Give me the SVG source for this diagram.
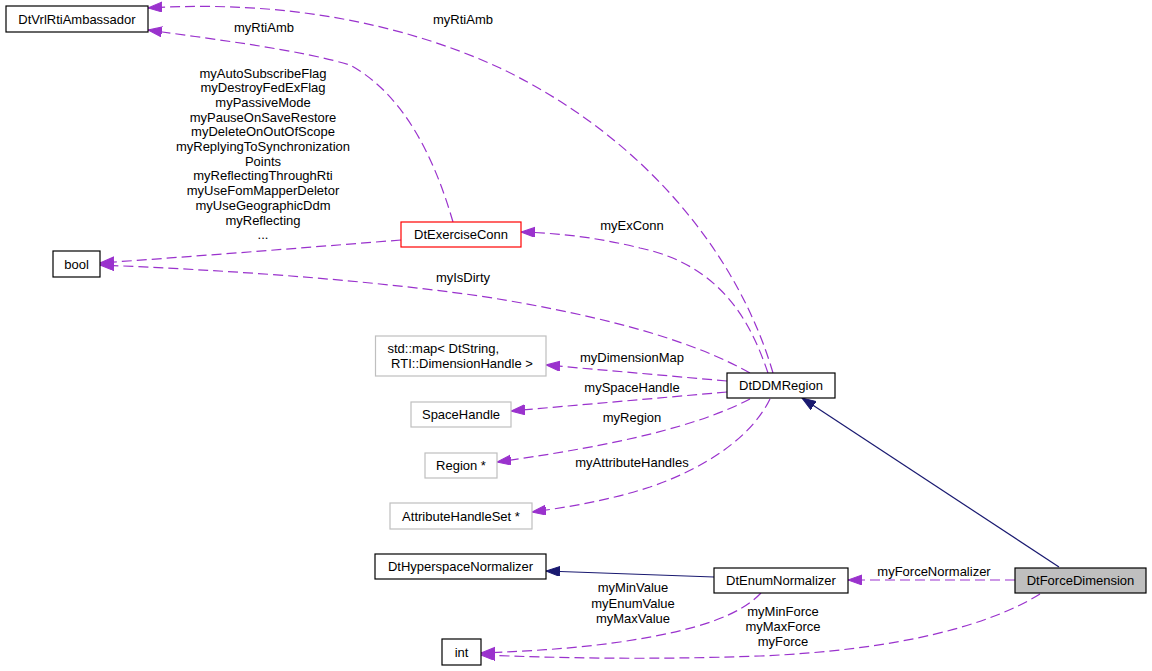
<svg xmlns="http://www.w3.org/2000/svg" width="1152" height="671" viewBox="0 0 1152 671">
<style>
text{font-family:"Liberation Sans",Arial,sans-serif;font-size:13px;fill:#000;text-anchor:middle}
.n rect{fill:#fff;stroke:#000;stroke-width:1.2}
.n.grey rect{stroke:#bfbfbf}
.n.red rect{stroke:#ff0000}
.n.cur rect{fill:#bfbfbf}
.e{fill:none;stroke:#9a32cd;stroke-width:1.2;stroke-dasharray:10,5}
.i{fill:none;stroke:#191970;stroke-width:1.2}
</style>
<defs>
<marker id="ap" markerUnits="userSpaceOnUse" markerWidth="16" markerHeight="12" refX="14" refY="5" orient="auto"><path d="M0,0 L14,5 L0,10 z" fill="#9a32cd" stroke="#9a32cd"/></marker>
<marker id="an" markerUnits="userSpaceOnUse" markerWidth="16" markerHeight="12" refX="14" refY="5" orient="auto"><path d="M0,0 L14,5 L0,10 z" fill="#191970" stroke="#191970"/></marker>
</defs>
<rect width="1152" height="671" fill="#fff"/>
<g id="connectors">
<path class="i" marker-end="url(#an)" d="M1059,567 L802,398"/>
<path class="i" marker-end="url(#an)" d="M714,577 L546,571"/>
<path class="e" marker-end="url(#ap)" d="M1015,580 L848,580"/>
<path class="e" marker-end="url(#ap)" d="M773,373 C740,260 650,140 500,68 C400,22 280,0 148,8"/>
<path class="e" marker-end="url(#ap)" d="M453,222 C435,160 405,95 350,65 C300,50 220,40 148,30"/>
<path class="e" marker-end="url(#ap)" d="M401,240 C300,248 200,256 100,263"/>
<path class="e" marker-end="url(#ap)" d="M750,373 C700,345 620,318 480,296 C350,278 220,270 100,265"/>
<path class="e" marker-end="url(#ap)" d="M768,373 C750,320 720,265 640,248 C600,238 560,233 521,232"/>
<path class="e" marker-end="url(#ap)" d="M727,381 L546,365"/>
<path class="e" marker-end="url(#ap)" d="M727,392 L511,411"/>
<path class="e" marker-end="url(#ap)" d="M750,399 C700,425 620,445 497,462"/>
<path class="e" marker-end="url(#ap)" d="M770,399 C750,440 700,470 650,487 C610,500 570,507 532,512"/>
<path class="e" marker-end="url(#ap)" d="M761,593 C740,615 700,630 620,642 C570,649 530,651 481,653"/>
<path class="e" marker-end="url(#ap)" d="M1040,594 C990,625 900,650 760,656 C650,660 560,658 481,655"/>
<text x="463" y="24">myRtiAmb</text>
<text x="264" y="32">myRtiAmb</text>
<text x="263" y="77.5">myAutoSubscribeFlag</text>
<text x="263" y="92.2">myDestroyFedExFlag</text>
<text x="263" y="106.9">myPassiveMode</text>
<text x="263" y="121.6">myPauseOnSaveRestore</text>
<text x="263" y="136.3">myDeleteOnOutOfScope</text>
<text x="263" y="151">myReplyingToSynchronization</text>
<text x="263" y="165.7">Points</text>
<text x="263" y="180.4">myReflectingThroughRti</text>
<text x="263" y="195.1">myUseFomMapperDeletor</text>
<text x="263" y="209.8">myUseGeographicDdm</text>
<text x="263" y="224.5">myReflecting</text>
<text x="263" y="238.5">...</text>
<text x="463" y="282">myIsDirty</text>
<text x="632" y="230">myExConn</text>
<text x="632" y="362">myDimensionMap</text>
<text x="632" y="392">mySpaceHandle</text>
<text x="632" y="422">myRegion</text>
<text x="632" y="467">myAttributeHandles</text>
<text x="934" y="576">myForceNormalizer</text>
<text x="633" y="592">myMinValue</text>
<text x="633" y="607.5">myEnumValue</text>
<text x="633" y="622.5">myMaxValue</text>
<text x="783" y="615.5">myMinForce</text>
<text x="783" y="631">myMaxForce</text>
<text x="783" y="646">myForce</text>
</g>
<g id="DtVrlRtiAmbassador" class="n"><rect x="6" y="6" width="142" height="26"/><text x="77" y="23.5">DtVrlRtiAmbassador</text></g>
<g id="bool" class="n"><rect x="53" y="251" width="47" height="26"/><text x="76.5" y="268.5">bool</text></g>
<g id="DtExerciseConn" class="n red"><rect x="401" y="222" width="120" height="25"/><text x="461" y="239">DtExerciseConn</text></g>
<g id="stdmap" class="n grey"><rect x="375.5" y="336" width="170.5" height="40"/><text x="387.5" y="353" style="text-anchor:start">std::map&lt; DtString,</text><text x="387.5" y="368" style="text-anchor:start" xml:space="preserve"> RTI::DimensionHandle &gt;</text></g>
<g id="SpaceHandle" class="n grey"><rect x="411" y="402" width="100" height="25"/><text x="461" y="419">SpaceHandle</text></g>
<g id="Region" class="n grey"><rect x="425" y="453" width="72" height="25"/><text x="461" y="469.5">Region *</text></g>
<g id="AttributeHandleSet" class="n grey"><rect x="390" y="503" width="142" height="26"/><text x="461" y="520.5">AttributeHandleSet *</text></g>
<g id="DtDDMRegion" class="n"><rect x="727" y="373" width="108" height="25"/><text x="781" y="390">DtDDMRegion</text></g>
<g id="DtHyperspaceNormalizer" class="n"><rect x="375" y="554" width="171" height="25"/><text x="460.5" y="571">DtHyperspaceNormalizer</text></g>
<g id="DtEnumNormalizer" class="n"><rect x="714" y="568" width="134" height="25"/><text x="781" y="584.5">DtEnumNormalizer</text></g>
<g id="DtForceDimension" class="n cur"><rect x="1015" y="568" width="131" height="25"/><text x="1080.5" y="584.5">DtForceDimension</text></g>
<g id="int" class="n"><rect x="442" y="639" width="39" height="26"/><text x="461.5" y="656.5">int</text></g>
</svg>
